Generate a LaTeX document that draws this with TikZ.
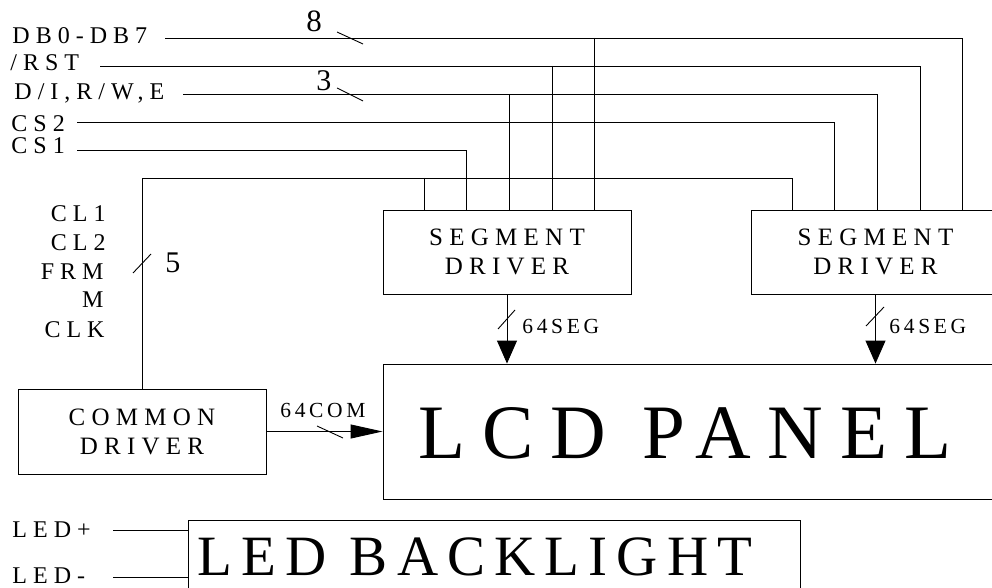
\documentclass[tikz,border=0pt]{standalone}
\usepackage{fontspec}
\setmainfont{Liberation Serif}
\usetikzlibrary{arrows.meta}
\begin{document}
\begin{tikzpicture}[x=1pt,y=-1pt,line width=0.9pt,
  lbl/.style={inner sep=0pt,font=\fontsize{24}{24}\selectfont\addfontfeature{LetterSpace=25}},
  num/.style={inner sep=0pt,font=\fontsize{30}{30}\selectfont},
  bus/.style={inner sep=0pt,font=\fontsize{21.5}{21.5}\selectfont\addfontfeature{LetterSpace=17}},
  blk/.style={draw,inner sep=0pt,align=center,font=\fontsize{25}{29}\selectfont\addfontfeature{LetterSpace=25}},
  big/.style={inner sep=0pt,font=\fontsize{77}{77}\selectfont\addfontfeature{LetterSpace=22}},
  bigb/.style={inner sep=0pt,font=\fontsize{57}{57}\selectfont\addfontfeature{LetterSpace=16}},
  segarrow/.style={-{Triangle[length=23pt,width=20pt]}},
  comarrow/.style={-{Triangle[length=32pt,width=14pt]}}]
\useasboundingbox (0,0) rectangle (992,588);
\clip (0,0) rectangle (992,588);
% blocks
\node[blk,minimum width=248pt,minimum height=84.5pt] (sd1) at (507,252.25) {SEGMENT\\DRIVER};
\node[blk,minimum width=249pt,minimum height=84.5pt] (sd2) at (875.5,252.25) {SEGMENT\\DRIVER};
\node[draw,inner sep=0pt,minimum width=617pt,minimum height=135pt] (lcd) at (691.5,431.5) {};
\node[big,anchor=base] (lcdt) at (685,458) {LCD PANEL};
\node[blk,minimum width=248pt,minimum height=85pt] (cd) at (142,431.5) {COMMON\\DRIVER};
\node[draw,inner sep=0pt,minimum width=612pt,minimum height=90pt] (led) at (494,565) {};
\node[bigb,anchor=base west] (ledt) at (197,575) {LED BACKLIGHT};
% signal labels
\node[lbl,anchor=base west] (ldb) at (12,44) {DB0-DB7};
\node[lbl,anchor=base west] (lrst) at (10,71) {/RST};
\node[lbl,anchor=base west] (ldi) at (14,100) {D/I,R/W,E};
\node[lbl,anchor=base west] (lcs2) at (11,131.5) {CS2};
\node[lbl,anchor=base west] (lcs1) at (11,154) {CS1};
\node[lbl,anchor=base east] (lcl1) at (106,221) {CL1};
\node[lbl,anchor=base east] (lcl2) at (106,250.5) {CL2};
\node[lbl,anchor=base east] (lfrm) at (104,279) {FRM};
\node[lbl,anchor=base east] (lm) at (104,307.5) {M};
\node[lbl,anchor=base east] (lclk) at (105,337) {CLK};
\node[lbl,anchor=base west] (lledp) at (12,537) {LED+};
\node[lbl,anchor=base west] (lledm) at (12,583) {LED-};
% bus widths
\node[num,anchor=base west,font=\fontsize{31}{31}\selectfont] (n8) at (306,32) {8};
\node[num,anchor=base west] (n3) at (316,91) {3};
\node[num,anchor=base west] (n5) at (165,272) {5};
\node[bus,anchor=base west] (s1) at (522,333) {64SEG};
\node[bus,anchor=base west] (s2) at (889,333) {64SEG};
\node[bus,anchor=base west] (c1) at (280,417) {64COM};
% wire start points
\coordinate (wdb) at (165,38);
\coordinate (wrst) at (100,66);
\coordinate (wdi) at (183,94);
\coordinate (wcs2) at (77,122);
\coordinate (wcs1) at (77,150);
\coordinate (wclk) at (142,178);
% wires
\draw (wdb) -| (962,0 |- sd2.north);
\draw (594,38) -- (594,0 |- sd1.north);
\draw (wrst) -| (920,0 |- sd2.north);
\draw (552,66) -- (552,0 |- sd1.north);
\draw (wdi) -| (877,0 |- sd2.north);
\draw (509,94) -- (509,0 |- sd1.north);
\draw (wcs2) -| (834,0 |- sd2.north);
\draw (wcs1) -| (466,0 |- sd1.north);
\draw (cd.north) -- (wclk) -| (792,0 |- sd2.north);
\draw (424,178) -- (424,0 |- sd1.north);
% bus ticks
\draw (337,32) -- (363,44);
\draw (337,88) -- (363,101);
\draw (133,273) -- (151,254);
\draw (498,329) -- (515,310);
\draw (866,326) -- (884,307);
\draw (317,426) -- (343,438);
% arrows
\draw[segarrow] (sd1.south) -- (sd1.south |- lcd.north);
\draw[segarrow] (sd2.south) -- (sd2.south |- lcd.north);
\draw[comarrow] (cd.east) -- (cd.east -| lcd.west);
% LED lines
\draw (113,530) -- (led.west |- 0,530);
\draw (113,577) -- (led.west |- 0,577);
\end{tikzpicture}
\end{document}
